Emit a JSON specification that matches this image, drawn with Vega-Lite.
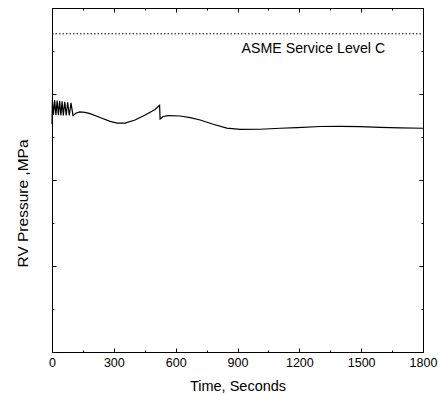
{
  "$schema": "https://vega.github.io/schema/vega-lite/v6.json",
  "width": 371,
  "height": 344,
  "autosize": "none",
  "padding": {"left": 52, "top": 8, "right": 15, "bottom": 42},
  "background": "white",
  "config": {
    "view": {"stroke": "black", "strokeWidth": 1},
    "axis": {
      "domain": false,
      "grid": false,
      "labelFont": "Liberation Sans",
      "titleFont": "Liberation Sans",
      "labelColor": "black",
      "titleColor": "black",
      "tickColor": "black",
      "titleFontWeight": "normal"
    }
  },
  "datasets": {
    "rv": [
      {"t": 0, "p": 13.25}, {"t": 2, "p": 14.65}, {"t": 7, "p": 13.78}, {"t": 13, "p": 14.64},
      {"t": 19, "p": 13.77}, {"t": 25, "p": 14.62}, {"t": 31, "p": 13.77}, {"t": 37, "p": 14.6},
      {"t": 43, "p": 13.76}, {"t": 49, "p": 14.57}, {"t": 55, "p": 13.76}, {"t": 62, "p": 14.55},
      {"t": 69, "p": 13.75}, {"t": 76, "p": 14.52}, {"t": 84, "p": 13.75}, {"t": 92, "p": 14.48},
      {"t": 102, "p": 13.74}, {"t": 115, "p": 13.88}, {"t": 135, "p": 13.96}, {"t": 160, "p": 13.93},
      {"t": 185, "p": 13.86}, {"t": 233, "p": 13.63}, {"t": 282, "p": 13.41}, {"t": 316, "p": 13.31},
      {"t": 354, "p": 13.31}, {"t": 403, "p": 13.49}, {"t": 452, "p": 13.78}, {"t": 500, "p": 14.1},
      {"t": 522, "p": 14.34}, {"t": 524.5, "p": 13.55}, {"t": 539, "p": 13.69}, {"t": 563, "p": 13.74},
      {"t": 622, "p": 13.72}, {"t": 670, "p": 13.63}, {"t": 719, "p": 13.49}, {"t": 782, "p": 13.24},
      {"t": 848, "p": 13.02}, {"t": 913, "p": 12.94}, {"t": 1010, "p": 12.95}, {"t": 1107, "p": 13.01},
      {"t": 1190, "p": 13.05}, {"t": 1301, "p": 13.11}, {"t": 1399, "p": 13.12}, {"t": 1496, "p": 13.1},
      {"t": 1593, "p": 13.06}, {"t": 1690, "p": 13.03}, {"t": 1800, "p": 13.01}
    ],
    "lim": [
      {"p": 18.5, "t": 920, "lp": 17.4, "label": "ASME Service Level C"}
    ]
  },
  "layer": [
    {
      "data": {"name": "rv"},
      "transform": [{"filter": "datum.t <= 563"}],
      "mark": {"type": "line", "color": "black", "strokeWidth": 1.2},
      "encoding": {
        "x": {
          "field": "t", "type": "quantitative",
          "scale": {"domain": [0, 1800], "nice": false},
          "axis": {
            "orient": "bottom", "values": [0, 300, 600, 900, 1200, 1500, 1800], "format": "d",
            "tickSize": -4, "labelPadding": 8, "labelFontSize": 12.5, "labelFlush": false,
            "title": "Time, Seconds", "titleFontSize": 14.5, "titleBaseline": "alphabetic", "titleY": 38
          }
        },
        "y": {
          "field": "p", "type": "quantitative",
          "scale": {"domain": [0, 20], "nice": false},
          "axis": {
            "orient": "left", "values": [0, 5, 10, 15, 20],
            "tickSize": -4, "labels": false,
            "title": "RV Pressure ,MPa", "titleFontSize": 15.5, "titleBaseline": "alphabetic",
            "titleX": -25, "titleY": 195
          }
        }
      }
    },
    {
      "data": {"name": "rv"},
      "transform": [{"filter": "datum.t >= 563"}],
      "mark": {"type": "line", "color": "black", "strokeWidth": 1.2},
      "encoding": {
        "x": {
          "field": "t", "type": "quantitative",
          "axis": {"orient": "top", "values": [0, 300, 600, 900, 1200, 1500, 1800], "tickSize": -4, "labels": false, "title": null}
        },
        "y": {
          "field": "p", "type": "quantitative",
          "axis": {"orient": "right", "values": [0, 5, 10, 15, 20], "tickSize": -4, "labels": false, "title": null}
        }
      }
    },
    {
      "data": {"name": "lim"},
      "mark": {"type": "rule", "color": "black", "strokeWidth": 1, "strokeDash": [1.5, 2]},
      "encoding": {
        "x": {
          "datum": 0, "type": "quantitative",
          "axis": {"orient": "bottom", "values": [150, 450, 750, 1050, 1350, 1650], "tickSize": -2, "labels": false, "title": null}
        },
        "x2": {"datum": 1800},
        "y": {
          "field": "p", "type": "quantitative",
          "axis": {"orient": "left", "values": [2.5, 7.5, 12.5, 17.5], "tickSize": -2, "labels": false, "title": null}
        }
      }
    },
    {
      "data": {"name": "lim"},
      "mark": {"type": "text", "align": "left", "baseline": "alphabetic", "font": "Liberation Sans", "fontSize": 14.2, "color": "black"},
      "encoding": {
        "x": {
          "field": "t", "type": "quantitative",
          "axis": {"orient": "top", "values": [150, 450, 750, 1050, 1350, 1650], "tickSize": -2, "labels": false, "title": null}
        },
        "y": {
          "field": "lp", "type": "quantitative",
          "axis": {"orient": "right", "values": [2.5, 7.5, 12.5, 17.5], "tickSize": -2, "labels": false, "title": null}
        },
        "text": {"field": "label"}
      }
    }
  ],
  "resolve": {"axis": {"x": "independent", "y": "independent"}}
}
